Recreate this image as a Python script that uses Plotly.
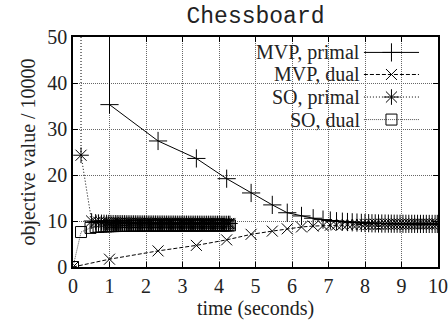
import plotly.graph_objects as go

# ---- data (objective value / 10000 vs time in seconds) ----
mvp_primal_t = [1.0, 1.0, 2.33, 3.38, 4.21, 4.88, 5.46, 5.87, 6.26, 6.58,
                6.85, 7.05, 7.22, 7.38, 7.52, 7.65, 7.78, 7.90, 8.00, 8.10, 8.19, 8.28, 8.37, 8.46,
                8.55, 8.64, 8.72, 8.80, 8.88, 8.96, 9.04, 9.12, 9.20, 9.28, 9.36, 9.44, 9.52,
                9.60, 9.68, 9.76, 9.84, 9.92, 9.98]
mvp_primal_v = [500.0, 35.3, 27.4, 23.6, 19.2, 16.1, 13.5, 11.8, 11.1, 10.6,
                10.3, 10.1, 9.95, 9.85, 9.78, 9.72, 9.66, 9.6, 9.56, 9.53, 9.5, 9.48, 9.46, 9.45,
                9.44, 9.43, 9.42, 9.41, 9.41, 9.4, 9.4, 9.39, 9.39, 9.38, 9.38, 9.38, 9.37,
                9.37, 9.37, 9.36, 9.36, 9.36, 9.36]

mvp_dual_t = [0.0, 1.0, 2.33, 3.38, 4.21, 4.88, 5.46, 5.87, 6.26, 6.58,
              6.85, 7.05, 7.22, 7.38, 7.52, 7.65, 7.78, 7.90, 8.00, 8.10, 8.19, 8.28, 8.37, 8.46,
              8.55, 8.64, 8.72, 8.80, 8.88, 8.96, 9.04, 9.12, 9.20, 9.28, 9.36, 9.44, 9.52,
              9.60, 9.68, 9.76, 9.84, 9.92, 9.98]
mvp_dual_v = [0.0, 1.7, 3.5, 4.7, 5.9, 7.1, 7.8, 8.3, 8.7, 8.9,
              9.0, 9.08, 9.13, 9.17, 9.2, 9.22, 9.24, 9.26, 9.27, 9.28, 9.29, 9.3, 9.3, 9.31,
              9.31, 9.32, 9.32, 9.32, 9.33, 9.33, 9.33, 9.33, 9.34, 9.34, 9.34, 9.34, 9.34,
              9.35, 9.35, 9.35, 9.35, 9.35, 9.35]

so_band_t = [0.62, 0.70, 0.78, 0.85, 0.92, 0.98, 1.04, 1.10, 1.16, 1.21, 1.26, 1.31,
             1.36, 1.41, 1.46, 1.51, 1.56, 1.61, 1.66, 1.71, 1.76, 1.81, 1.86, 1.91,
             1.96, 2.01, 2.06, 2.11, 2.16, 2.21, 2.26, 2.31, 2.36, 2.41, 2.46, 2.51,
             2.56, 2.61, 2.66, 2.71, 2.76, 2.81, 2.86, 2.91, 2.96, 3.01, 3.06, 3.11,
             3.16, 3.21, 3.26, 3.31, 3.36, 3.41, 3.46, 3.51, 3.56, 3.61, 3.66, 3.71,
             3.76, 3.81, 3.86, 3.91, 3.96, 4.01, 4.06, 4.11, 4.16, 4.21, 4.26, 4.30]

so_primal_t = [0.22, 0.22, 0.51] + so_band_t
so_primal_v = [500.0, 24.3, 10.0,
               9.8, 9.75, 9.7, 9.68, 9.66, 9.64, 9.62, 9.61, 9.6, 9.59, 9.58, 9.58,
               9.57, 9.57, 9.56, 9.56, 9.55, 9.55, 9.55, 9.54, 9.54, 9.54, 9.53, 9.53,
               9.53, 9.53, 9.52, 9.52, 9.52, 9.52, 9.51, 9.51, 9.51, 9.51, 9.51, 9.5,
               9.5, 9.5, 9.5, 9.5, 9.5, 9.49, 9.49, 9.49, 9.49, 9.49, 9.49, 9.49,
               9.48, 9.48, 9.48, 9.48, 9.48, 9.48, 9.48, 9.48, 9.47, 9.47, 9.47, 9.47,
               9.47, 9.47, 9.47, 9.47, 9.47, 9.46, 9.46, 9.46, 9.46, 9.46, 9.46, 9.46]

so_dual_t = [0.0, 0.22, 0.48] + so_band_t
so_dual_v = [0.0, 7.6, 8.5,
             8.7, 8.75, 8.8, 8.82, 8.84, 8.86, 8.88, 8.89, 8.9, 8.91, 8.92, 8.92,
             8.93, 8.93, 8.94, 8.94, 8.95, 8.95, 8.95, 8.96, 8.96, 8.96, 8.97, 8.97,
             8.97, 8.97, 8.98, 8.98, 8.98, 8.98, 8.99, 8.99, 8.99, 8.99, 8.99, 9.0,
             9.0, 9.0, 9.0, 9.0, 9.0, 9.01, 9.01, 9.01, 9.01, 9.01, 9.01, 9.01,
             9.02, 9.02, 9.02, 9.02, 9.02, 9.02, 9.02, 9.02, 9.03, 9.03, 9.03, 9.03,
             9.03, 9.03, 9.03, 9.03, 9.03, 9.04, 9.04, 9.04, 9.04, 9.04, 9.04, 9.04]

series_names = ["MVP, primal", "MVP, dual", "SO, primal", "SO, dual"]
x_ticks = [0, 1, 2, 3, 4, 5, 6, 7, 8, 9, 10]
y_ticks = [0, 10, 20, 30, 40, 50]

# ---- styles ----
SERIF = "Liberation Serif"
TXT = "#222222"
styles = [
    dict(line=dict(color="black", width=1), symbol="cross-thin-open", size=13, mcol="black"),
    dict(line=dict(color="black", width=1, dash="4px,2px"), symbol="x-thin-open", size=11, mcol="black"),
    dict(line=dict(color="black", width=1, dash="1px,2px"), symbol="asterisk-open", size=13, mcol="black"),
    dict(line=dict(color="#555555", width=1, dash="1px,1px"), symbol="square-open", size=11, mcol="black"),
]
data = [(mvp_primal_t, mvp_primal_v), (mvp_dual_t, mvp_dual_v),
        (so_primal_t, so_primal_v), (so_dual_t, so_dual_v)]

fig = go.Figure()
for (t, v), st, nm in zip(data, styles, series_names):
    fig.add_trace(go.Scatter(
        x=t, y=v, mode="lines+markers", name=nm, showlegend=False,
        line=st["line"],
        marker=dict(symbol=st["symbol"], size=st["size"],
                    line=dict(color=st["mcol"], width=1), color=st["mcol"]),
    ))

# ---- custom legend (text left of sample, gnuplot style) on an overlay axis ----
leg_rows = [0.933, 0.837, 0.739, 0.641]
for st, nm, yy in zip(styles, series_names, leg_rows):
    fig.add_trace(go.Scatter(
        x=[0.797, 0.948], y=[yy, yy], xaxis="x2", yaxis="y2", mode="lines",
        line=st["line"], showlegend=False, hoverinfo="skip"))
    fig.add_trace(go.Scatter(
        x=[0.8725], y=[yy], xaxis="x2", yaxis="y2", mode="markers",
        marker=dict(symbol=st["symbol"], size=st["size"],
                    line=dict(color=st["mcol"], width=1), color=st["mcol"]),
        showlegend=False, hoverinfo="skip"))
    fig.add_annotation(x=0.792, y=yy, xref="paper", yref="paper", text=nm,
                       showarrow=False, xanchor="right", yanchor="middle",
                       font=dict(family=SERIF, size=20, color=TXT))

fig.add_shape(type="rect", xref="paper", yref="paper", x0=0.51, x1=0.97, y0=0.615, y1=0.995,
              fillcolor="white", line=dict(width=0), layer="between")

axis_common = dict(showline=True, linecolor="black", linewidth=1.5, mirror="ticks",
                   ticks="inside", ticklen=5, tickcolor="black", automargin=False,
                   showgrid=True, gridcolor="#666666", griddash="1px,1px", gridwidth=1,
                   zeroline=False, tickfont=dict(family=SERIF, size=20, color=TXT))

fig.update_layout(
    width=448, height=322,
    margin=dict(l=73, r=10, t=37, b=55),
    paper_bgcolor="white", plot_bgcolor="white",
    title=dict(text="Chessboard", x=255.5 / 448, xanchor="center",
               y=0.955, yanchor="middle",
               font=dict(family="Liberation Mono", size=23, color=TXT)),
    xaxis=dict(range=[0, 10], tickvals=x_ticks,
               title=dict(text="time (seconds)", font=dict(family=SERIF, size=20, color=TXT),
                          standoff=2),
               **axis_common),
    yaxis=dict(range=[0, 50], tickvals=y_ticks,
               title=dict(text="objective value / 10000", font=dict(family=SERIF, size=20, color=TXT),
                          standoff=6),
               **axis_common),
    xaxis2=dict(range=[0, 1], overlaying="x", visible=False, fixedrange=True),
    yaxis2=dict(range=[0, 1], overlaying="y", visible=False, fixedrange=True),
)

fig.write_html("out.html")
